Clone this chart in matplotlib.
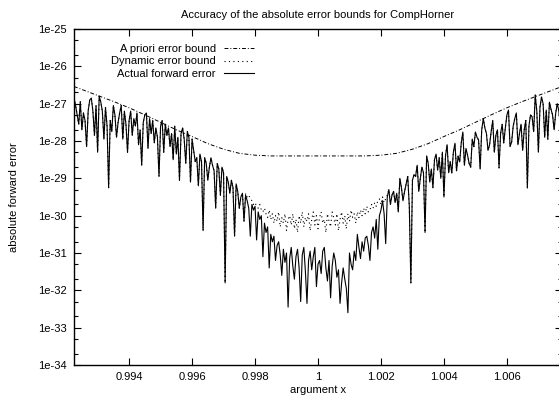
import numpy as np
import matplotlib.pyplot as plt
from matplotlib.ticker import FixedLocator, FixedFormatter, NullFormatter

plt.rcParams['font.family'] = ['Liberation Sans', 'DejaVu Sans']
plt.rcParams['font.size'] = 8

# argument grid of the evaluation (uniform step)
x_start = 0.99225
x_step = 0.00005

# log10 of the actual forward error (311 points)
actual_log = [
    # 0.99225 .. 0.99620
    -26.85, -27.05, -27.30, -27.55, -26.95, -27.70, -27.25, -27.45, -28.15, -27.20,
    -26.90, -26.85, -27.20, -27.85, -27.05, -28.30, -26.80, -26.95, -27.20, -27.95,
    -27.10, -27.60, -29.25, -27.45, -27.75, -27.05, -27.30, -27.90, -27.50, -27.25,
    -27.05, -27.95, -27.20, -27.55, -28.30, -27.45, -27.20, -27.85, -27.40, -27.60,
    -27.25, -28.10, -27.70, -28.65, -27.50, -27.30, -27.25, -28.20, -27.40, -27.80,
    -27.45, -28.05, -27.65, -27.90, -28.95, -27.60, -27.45, -28.30, -27.55, -27.85,
    -27.65, -28.15, -27.80, -28.50, -27.60, -28.35, -27.90, -29.05, -27.80, -27.65,
    -27.95, -28.60, -27.75, -27.90, -29.10, -27.95, -28.25, -28.55, -28.45, -29.20,
    # 0.99625 .. 1.00000
    -28.35, -28.55, -30.40, -28.45, -28.60, -29.05, -28.70, -28.45, -28.65, -28.80,
    -29.80, -28.60, -28.75, -29.45, -28.70, -28.85, -31.80, -28.95, -29.10, -29.40,
    -29.05, -29.25, -30.55, -29.15, -29.35, -29.80, -29.50, -29.40, -30.15, -29.45,
    -29.60, -29.80, -30.55, -29.70, -29.85, -29.75, -30.65, -29.90, -30.10, -30.00,
    -31.10, -30.20, -30.45, -30.30, -31.40, -30.50, -30.70, -30.55, -31.20, -30.80,
    -30.70, -31.05, -31.60, -30.90, -31.25, -31.00, -32.45, -31.15, -30.85, -31.35,
    -31.70, -31.10, -30.90, -31.40, -32.30, -31.05, -30.85, -31.50, -32.35, -31.20,
    -30.95, -31.45, -31.10, -30.85, -31.90, -31.30,
    # 1.00005 .. 1.00375
    -31.20, -31.55, -30.95, -30.85, -31.40, -31.75, -31.20, -32.20, -31.35, -31.00,
    -31.20, -31.65, -31.45, -32.35, -31.80, -31.40, -31.70, -31.95, -32.60, -31.00,
    -31.30, -31.45, -30.95, -31.20, -30.50, -30.85, -31.15, -30.70, -30.95, -30.60,
    -30.55, -30.80, -31.20, -30.45, -30.30, -30.60, -30.10, -30.90, -30.00, -29.85,
    -29.60, -29.95, -30.75, -29.50, -29.30, -29.70, -29.45, -29.35, -29.65, -29.40,
    -29.90, -29.00, -29.25, -29.60, -29.35, -29.15, -28.95, -29.75, -31.80, -29.05,
    -28.90, -28.95, -28.65, -29.35, -29.00, -28.70, -28.85, -30.45, -28.40, -28.60,
    -29.10, -28.75, -29.25, -28.50, -28.35,
    # 1.00380 .. 1.00775
    -28.78, -28.45, -29.00, -28.30, -29.50, -28.40, -28.10, -28.85, -28.55, -28.86,
    -28.30, -28.06, -28.80, -28.40, -28.56, -28.05, -27.76, -28.65, -28.20, -28.38,
    -28.60, -28.70, -27.95, -28.15, -27.76, -27.90, -27.97, -28.75, -27.70, -27.40,
    -27.65, -27.80, -28.25, -28.10, -27.75, -27.45, -28.30, -27.85, -27.70, -28.72,
    -27.80, -27.55, -28.05, -27.65, -27.30, -27.17, -28.15, -28.03, -27.60, -27.40,
    -27.25, -28.10, -27.80, -27.55, -28.25, -27.70, -27.45, -29.26, -27.60, -27.30,
    -27.35, -27.75, -26.77, -27.20, -28.30, -27.10, -26.82, -27.00, -27.90, -27.17,
    -27.95, -26.96, -27.15, -27.30, -27.70, -27.25, -27.00, -27.20, -27.60, -27.15,
]

# log10 of the dynamic bound where it leaves the actual error (points 109..199)
dyn_from = 109
dyn_mid_log = [
    -29.40, -29.50, -29.45, -29.55, -29.60, -29.70, -29.65, -29.75, -29.80, -29.70,
    -29.85, -29.90, -29.80, -29.95, -30.05, -29.85, -30.10, -29.95, -30.20, -30.00,
    -30.15, -29.90, -30.30, -30.05, -30.20, -29.95, -30.40, -30.10, -30.00, -30.25,
    -29.95, -30.35, -30.10, -30.45, -30.00, -30.20, -29.90, -30.30, -30.05, -30.15,
    -29.95, -30.40, -30.10, -29.90, -30.25, -30.00, -30.35, -30.05, -29.90, -30.20,
    -30.10, -30.45, -29.95, -30.15, -30.30, -29.90, -30.05, -30.25, -29.95, -30.40,
    -30.10, -29.90, -30.20, -30.00, -30.35, -29.95, -30.15, -29.85, -30.05, -29.95,
    -30.20, -29.90, -30.05, -29.85, -30.00, -29.80, -29.95, -29.75, -29.90, -29.85,
    -29.70, -29.80, -29.65, -29.75, -29.60, -29.55, -29.70, -29.50, -29.65, -29.55,
    -29.45,
]

# a priori bound, log10
apriori_x = [0.99225, 0.9925, 0.993, 0.9935, 0.994, 0.9945, 0.995, 0.9955, 0.996,
             0.9965, 0.997, 0.9975, 0.998, 0.9985, 0.999, 0.9995, 1.0,
             1.0005, 1.001, 1.0015, 1.002, 1.0025, 1.003, 1.0035, 1.004,
             1.0045, 1.005, 1.0055, 1.006, 1.0065, 1.007, 1.0075, 1.00775]
apriori_log = [-26.54, -26.62, -26.78, -26.94, -27.11, -27.30, -27.50, -27.70, -27.88,
               -28.07, -28.22, -28.33, -28.38, -28.40, -28.40, -28.40, -28.40,
               -28.40, -28.40, -28.40, -28.38, -28.33, -28.22, -28.07, -27.88,
               -27.70, -27.50, -27.30, -27.11, -26.94, -26.78, -26.62, -26.54]

x_ticks = [0.994, 0.996, 0.998, 1.0, 1.002, 1.004, 1.006]
x_labels = ["0.994", "0.996", "0.998", "1", "1.002", "1.004", "1.006"]
y_exps = [-34, -33, -32, -31, -30, -29, -28, -27, -26, -25]

x = x_start + x_step * np.arange(len(actual_log))
actual = 10.0 ** np.array(actual_log)
dyn_log = list(actual_log)
dyn_log[dyn_from:dyn_from + len(dyn_mid_log)] = dyn_mid_log
dynamic = 10.0 ** np.array(dyn_log)
apriori = 10.0 ** np.array(apriori_log)

fig = plt.figure(figsize=(5.59, 3.98), dpi=100)
ax = fig.add_axes([74 / 559, 33 / 398, 488 / 559, 336 / 398])

ax.plot(apriori_x, apriori, color="black", lw=0.7, linestyle=(0, (4, 2, 1, 2)),
        label="A priori error bound")
ax.plot(x, dynamic, color="black", lw=0.8, linestyle=(0, (1, 3)),
        label="Dynamic error bound")
ax.plot(x, actual, color="black", lw=0.8, label="Actual forward error")

ax.set_yscale("log")
ax.set_xlim(0.99225, 1.00775)
ax.set_ylim(1e-34, 1e-25)

ax.xaxis.set_major_locator(FixedLocator(x_ticks))
ax.xaxis.set_major_formatter(FixedFormatter(x_labels))
ax.yaxis.set_major_locator(FixedLocator([10.0 ** e for e in y_exps]))
ax.yaxis.set_major_formatter(FixedFormatter(["1e%d" % e for e in y_exps]))
minor = [m * 10.0 ** e for e in y_exps[:-1] for m in (2, 5)]
ax.yaxis.set_minor_locator(FixedLocator(minor))
ax.yaxis.set_minor_formatter(NullFormatter())
ax.xaxis.set_minor_locator(FixedLocator([]))

ax.tick_params(which="both", direction="in", top=True, right=True, width=0.8)
ax.tick_params(which="major", length=5, pad=5)
ax.tick_params(which="minor", length=3)
for s in ax.spines.values():
    s.set_linewidth(1.0)

ax.set_title("Accuracy of the absolute error bounds for CompHorner", fontsize=8, pad=8)
ax.set_xlabel("argument x", labelpad=2)
ax.set_ylabel("absolute forward error", labelpad=14)

ax.legend(loc="upper left", bbox_to_anchor=(0.06, 0.978), frameon=False,
          markerfirst=False, alignment="right", handlelength=2.7,
          handletextpad=0.7, labelspacing=0.2, borderpad=0.2)

fig.savefig("out.png", dpi=100)
